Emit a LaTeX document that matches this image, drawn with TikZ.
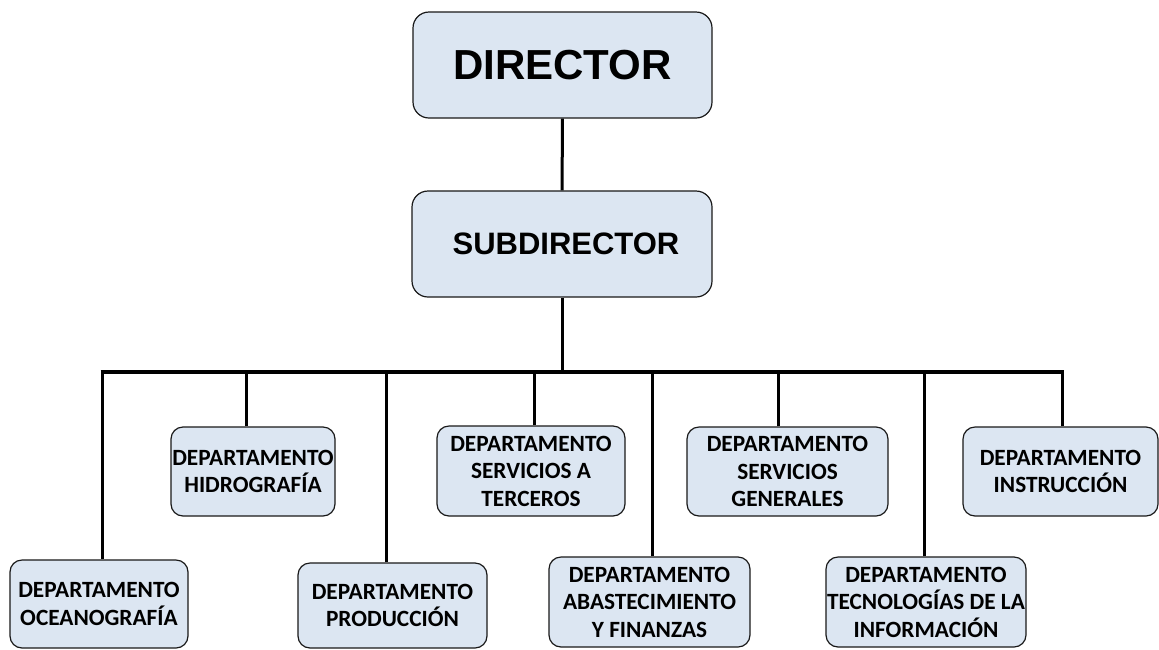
\documentclass[tikz,border=0pt]{standalone}
\usepackage{fontspec}
\setmainfont{Carlito}
\newfontfamily\arialfont{Liberation Sans}
\usepackage{tikz}
\usetikzlibrary{shapes,positioning,calc}
\definecolor{boxfill}{HTML}{DCE6F2}
\tikzstyle{box} = [draw=black!90, fill=boxfill, line width=1.2pt, rounded corners=12pt, inner sep=0pt, align=center]
\tikzstyle{dept} = [box, font=\fontsize{23.3}{27.5}\selectfont\bfseries]
\tikzstyle{link} = [draw, line width=3pt]

\begin{document}
\begin{tikzpicture}[x=1pt,y=-1pt]
		\useasboundingbox (0,0) rectangle (1159,649);
		%\draw[help lines] (0,0) grid (1159,649);
		\node[box, rounded corners=16pt, minimum width=299, minimum height=106, font=\arialfont\fontsize{42}{48}\selectfont\bfseries] (dir) at (562.5,65) {DIRECTOR};
		\node[box, rounded corners=16pt, minimum width=300, minimum height=106, font=\arialfont\fontsize{31}{36}\selectfont\bfseries] (sub) at (562,244) {\hspace*{8pt}SUBDIRECTOR};
		\node[dept, minimum width=178, minimum height=88] (oce) at (99,604) {DEPARTAMENTO\\OCEANOGRAFÍA};
		\node[dept, minimum width=164, minimum height=89] (hid) at (253,471.5) {DEPARTAMENTO\\HIDROGRAFÍA};
		\node[dept, minimum width=189, minimum height=85] (pro) at (392.5,605.5) {DEPARTAMENTO\\PRODUCCIÓN};
		\node[dept, minimum width=188, minimum height=90] (ter) at (531,471) {DEPARTAMENTO\\SERVICIOS A\\TERCEROS};
		\node[dept, minimum width=201, minimum height=90] (aba) at (649.5,602) {DEPARTAMENTO\\ABASTECIMIENTO\\Y FINANZAS};
		\node[dept, minimum width=201, minimum height=89] (gen) at (787.5,471.5) {DEPARTAMENTO\\SERVICIOS\\GENERALES};
		\node[dept, minimum width=195, minimum height=89] (ins) at (1060.5,471.5) {DEPARTAMENTO\\INSTRUCCIÓN};
		\node[dept, minimum width=200, minimum height=90] (tec) at (926,602) {DEPARTAMENTO\\TECNOLOGÍAS DE LA\\INFORMACIÓN};
		\coordinate (barl) at (100.5,372);
		\coordinate (barr) at (1063.5,372);
		\path[link] (dir) -- (sub);
		\path[link] (sub.south) -- (sub.south |- barl);
		\path[draw, line width=4.5pt] (barl) -- (barr);
		\foreach \n/\dx in {oce/3, hid/-7, pro/-6.5, ter/3, aba/2.5, gen/-9.5, ins/1.5, tec/-2}
			\path[link] ([xshift=\dx]\n.north) -- ([xshift=\dx]\n.north |- barl);
\end{tikzpicture}
\end{document}
